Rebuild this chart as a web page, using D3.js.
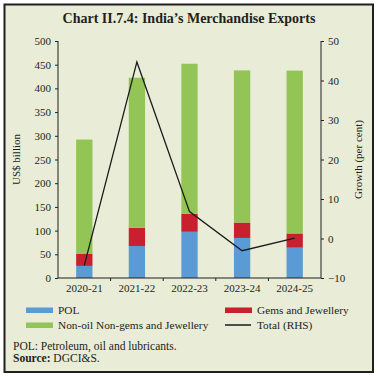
<!DOCTYPE html>
<html lang="en">
<head>
    <meta charset="UTF-8">
    <title>India's Merchandise Exports</title>
    <script src="https://d3js.org/d3.v7.min.js"></script>
    <style>
        body { margin: 0; background: #fff; }
        svg text { font-family: "Liberation Serif", "DejaVu Serif", serif; fill: #231f20; }
        .axis path, .axis line { stroke: #231f20; }
    </style>
</head>
<body>
    <svg width="378" height="377"></svg>
    <script>
        // data
        const years = ["2020-21", "2021-22", "2022-23", "2023-24", "2024-25"];
        const pol = [25.5, 67.5, 97.5, 84.5, 64];
        const gems = [26, 38.5, 38, 32.5, 30];
        const nonOil = [240.5, 316.5, 316.5, 321, 343.5];
        const growth = [-6.8, 44.7, 6.8, -3.1, 0.1];

        const leftTicks = [0, 50, 100, 150, 200, 250, 300, 350, 400, 450, 500];
        const rightTicks = [-10, 0, 10, 20, 30, 40, 50];

        const colors = { pol: "#5b9bd5", gems: "#c8202e", nonOil: "#92c555", line: "#1a1a1a" };

        const svg = d3.select("svg");

        svg.append("rect")
            .attr("x", 4.5).attr("y", 4.5)
            .attr("width", 368.5).attr("height", 367.5)
            .attr("fill", "#e9ecd6")
            .attr("stroke", "#231f20")
            .attr("stroke-width", 2);

        svg.append("text")
            .attr("x", 189).attr("y", 23)
            .attr("text-anchor", "middle")
            .style("font-size", "14px")
            .style("font-weight", "bold")
            .text("Chart II.7.4: India\u2019s Merchandise Exports");

        const plotLeft = 58, plotRight = 321, plotTop = 41, plotBottom = 278;

        const x = d3.scaleBand().domain(years).range([plotLeft, plotRight]).paddingInner(0.69).paddingOuter(0.345);
        const xAxisScale = d3.scaleBand().domain(years).range([plotLeft, plotRight]);
        const y = d3.scaleLinear().domain([0, 500]).range([plotBottom, plotTop]);
        const y2 = d3.scaleLinear().domain([-10, 50]).range([plotBottom, plotTop]);

        // stacked bars
        const rows = years.map((yr, i) => ({ year: yr, pol: pol[i], gems: gems[i], nonOil: nonOil[i] }));
        const stack = d3.stack().keys(["pol", "gems", "nonOil"])(rows);

        svg.append("g").selectAll("g")
            .data(stack)
            .enter().append("g")
            .attr("fill", d => colors[d.key])
            .selectAll("rect")
            .data(d => d)
            .enter().append("rect")
            .attr("x", d => x(d.data.year))
            .attr("width", x.bandwidth())
            .attr("y", d => y(d[1]))
            .attr("height", d => y(d[0]) - y(d[1]));

        // axes
        const yAxis = svg.append("g")
            .attr("class", "axis")
            .attr("transform", `translate(${plotLeft},0)`)
            .call(d3.axisLeft(y).tickValues(leftTicks).tickSize(3).tickPadding(4));

        const y2Axis = svg.append("g")
            .attr("class", "axis")
            .attr("transform", `translate(${plotRight},0)`)
            .call(d3.axisRight(y2).tickValues(rightTicks).tickSize(3).tickPadding(4));

        const xAxis = svg.append("g")
            .attr("class", "axis")
            .attr("transform", `translate(0,${plotBottom})`)
            .call(d3.axisBottom(xAxisScale).tickSize(0).tickPadding(6));

        // tick marks between categories
        xAxis.selectAll(".sep")
            .data(years.slice(1))
            .enter().append("line")
            .attr("class", "sep")
            .attr("x1", d => xAxisScale(d)).attr("x2", d => xAxisScale(d))
            .attr("y1", 0).attr("y2", 3)
            .attr("stroke", "#231f20");

        [yAxis, y2Axis, xAxis].forEach(g => {
            g.selectAll("text").style("font-size", "11px").style("font-family", "Liberation Serif, serif").attr("fill", "#231f20");
            g.select(".domain").attr("stroke", "#231f20");
        });
        yAxis.select(".domain").attr("d", `M0,${plotTop}V${plotBottom}`);
        y2Axis.select(".domain").attr("d", `M0,${plotTop}V${plotBottom}`);
        xAxis.select(".domain").attr("d", `M${plotLeft},0H${plotRight}`);

        svg.append("text")
            .attr("transform", `translate(20,${(plotTop + plotBottom) / 2}) rotate(-90)`)
            .attr("text-anchor", "middle")
            .style("font-size", "11px")
            .text("US$ billion");

        svg.append("text")
            .attr("transform", `translate(362,${(plotTop + plotBottom) / 2}) rotate(-90)`)
            .attr("text-anchor", "middle")
            .style("font-size", "11px")
            .text("Growth (per cent)");

        // growth line
        const line = d3.line()
            .x((d, i) => xAxisScale(years[i]) + xAxisScale.bandwidth() / 2)
            .y(d => y2(d));

        svg.append("path")
            .datum(growth)
            .attr("fill", "none")
            .attr("stroke", colors.line)
            .attr("stroke-width", 1.3)
            .attr("d", line);

        // legend
        const legend = [
            { label: "POL", color: colors.pol, type: "rect", x: 26, y: 310 },
            { label: "Gems and Jewellery", color: colors.gems, type: "rect", x: 225, y: 310 },
            { label: "Non-oil Non-gems and Jewellery", color: colors.nonOil, type: "rect", x: 26, y: 325 },
            { label: "Total (RHS)", color: colors.line, type: "line", x: 225, y: 325 }
        ];

        const lg = svg.append("g").selectAll("g")
            .data(legend)
            .enter().append("g")
            .attr("transform", d => `translate(${d.x},${d.y})`);

        lg.filter(d => d.type === "rect").append("rect")
            .attr("x", 0).attr("y", -2.5)
            .attr("width", 27).attr("height", 5.5)
            .attr("fill", d => d.color);

        lg.filter(d => d.type === "line").append("line")
            .attr("x1", 0).attr("x2", 26)
            .attr("y1", 0).attr("y2", 0)
            .attr("stroke", d => d.color)
            .attr("stroke-width", 1.5);

        lg.append("text")
            .attr("x", 32).attr("y", 3.5)
            .style("font-size", "11.3px")
            .text(d => d.label);

        // notes
        svg.append("text")
            .attr("x", 13).attr("y", 350)
            .style("font-size", "11.5px")
            .text("POL: Petroleum, oil and lubricants.");

        const src = svg.append("text")
            .attr("x", 13).attr("y", 362)
            .style("font-size", "11.5px");
        src.append("tspan").style("font-weight", "bold").text("Source: ");
        src.append("tspan").text("DGCI&S.");
    </script>
</body>
</html>
